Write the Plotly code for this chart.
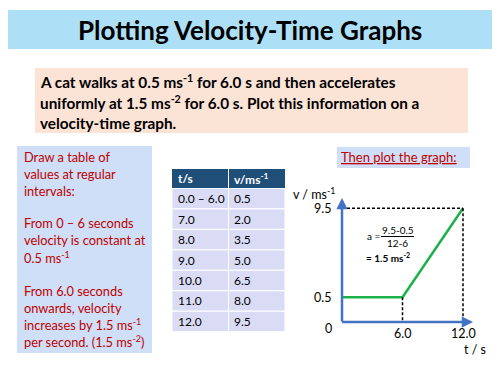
import plotly.graph_objects as go

# ---------------- data ----------------
table_t = ["0.0 – 6.0", "7.0", "8.0", "9.0", "10.0", "11.0", "12.0"]
table_v = ["0.5", "2.0", "3.5", "5.0", "6.5", "8.0", "9.5"]
table_header = ["t/s", "v/ms<sup>-1</sup>"]

graph_t = [0, 6, 12]
graph_v = [0.5, 0.5, 9.5]
x_tick_vals = [6, 12]
x_tick_text = ["6.0", "12.0"]
y_tick_vals = [0.5, 9.5]
y_tick_text = ["0.5", "9.5"]

# page is shown with the default 8px body margin: draw on a 492x367 canvas
OFF = 8
W, H = 500 - OFF, 375 - OFF
FONT = "Lato"
RED = "#C00000"
BLUE = "#4472C4"
GREEN = "#1DB14B"


def sketch_y(v):
    # the sketch is not to scale: the 0 -> 0.5 gap is stretched
    return v * 5 if v <= 0.5 else 2.5 + (v - 0.5)


def px(x):
    return (x - OFF) / W


def py(y):
    return 1 - (y - OFF) / H


fig = go.Figure()

# velocity-time line
fig.add_trace(go.Scatter(
    x=graph_t, y=[sketch_y(v) for v in graph_v], mode="lines",
    line=dict(color=GREEN, width=2.5), hoverinfo="skip", showlegend=False))

shapes = [
    dict(type="rect", xref="paper", yref="paper", x0=px(0), x1=px(500),
         y0=py(49), y1=py(10), fillcolor="#ADDFF7", line=dict(width=0), layer="below"),
    dict(type="rect", xref="paper", yref="paper", x0=px(35), x1=px(468),
         y0=py(133), y1=py(68), fillcolor="#FBE3D6", line=dict(width=0), layer="below"),
    dict(type="rect", xref="paper", yref="paper", x0=px(17), x1=px(152),
         y0=py(353), y1=py(146), fillcolor="#CFDFF7", line=dict(width=0), layer="below"),
    dict(type="rect", xref="paper", yref="paper", x0=px(337), x1=px(470),
         y0=py(168), y1=py(147), fillcolor="#CFDFF7", line=dict(width=0), layer="below"),
    # dashed guide lines
    dict(type="line", xref="x", yref="y", x0=0, x1=graph_t[2],
         y0=sketch_y(graph_v[2]), y1=sketch_y(graph_v[2]),
         line=dict(color="black", width=1.5, dash="3px,2px")),
    dict(type="line", xref="x", yref="y", x0=graph_t[2], x1=graph_t[2],
         y0=sketch_y(graph_v[2]), y1=0,
         line=dict(color="black", width=1.5, dash="3px,2px")),
    dict(type="line", xref="x", yref="y", x0=graph_t[1], x1=graph_t[1],
         y0=sketch_y(graph_v[1]), y1=0,
         line=dict(color="black", width=1.5, dash="3px,2px")),
    # fraction bar
    dict(type="line", xref="paper", yref="paper", x0=px(381), x1=px(414),
         y0=py(236.5), y1=py(236.5), line=dict(color="black", width=1)),
]

ann = []


def text(x, y, s, size=14, color="black", anchor="left", bold=False):
    if bold:
        s = "<b>" + s + "</b>"
    ann.append(dict(x=px(x), y=py(y), xref="paper", yref="paper", text=s,
                    showarrow=False, xanchor=anchor, yanchor="middle",
                    font=dict(family=FONT, size=size, color=color)))


# ---------------- table (cells as shapes, values as text) ----------------
tab_x = [172, 228.5, 285]
tab_top, head_h, row_h = 169, 19.5, 20.45
shapes.append(dict(type="rect", xref="paper", yref="paper", x0=px(tab_x[0]), x1=px(tab_x[2]),
                   y0=py(tab_top + head_h), y1=py(tab_top), fillcolor="#1F4E79",
                   line=dict(width=0), layer="below"))
for c, hdr in enumerate(table_header):
    text(tab_x[c] + 3.5, tab_top + head_h / 2, hdr, size=12, color="white", bold=True)
for r, (tv, vv) in enumerate(zip(table_t, table_v)):
    y0 = tab_top + head_h + r * row_h
    for c in range(2):
        shapes.append(dict(type="rect", xref="paper", yref="paper",
                           x0=px(tab_x[c]), x1=px(tab_x[c + 1]),
                           y0=py(y0 + row_h), y1=py(y0), fillcolor="#DADCF6",
                           line=dict(color="white", width=1), layer="below"))
    text(tab_x[0] + 3.5, y0 + row_h / 2, tv, size=12)
    text(tab_x[1] + 3.5, y0 + row_h / 2, vv, size=12)
shapes.append(dict(type="line", xref="paper", yref="paper", x0=px(tab_x[1]), x1=px(tab_x[1]),
                   y0=py(tab_top + head_h), y1=py(tab_top), line=dict(color="white", width=1)))

text(250, 30, "Plotting Velocity-Time Graphs", size=26, anchor="center", bold=True)

text(38, 81, "A cat walks at 0.5 ms<sup>-1</sup> for 6.0 s and then accelerates", size=15.3, bold=True)
text(38, 102, "uniformly at 1.5 ms<sup>-2</sup> for 6.0 s. Plot this information on a", size=15.3, bold=True)
text(38, 123, "velocity-time graph.", size=15.3, bold=True)

left_lines = [
    (157, "Draw a table of"), (174, "values at regular"), (191, "intervals:"),
    (223, "From 0 – 6 seconds"), (240, "velocity is constant at"), (257, "0.5 ms<sup>-1</sup>"),
    (291, "From 6.0 seconds"), (308, "onwards, velocity"),
    (324, "increases by 1.5 ms<sup>-1</sup>"), (341, "per second. (1.5 ms<sup>-2</sup>)"),
]
for yy, s in left_lines:
    text(22, yy, s, size=12.8, color=RED)

text(399, 157, "<u>Then plot the graph:</u>", size=13, color=RED, anchor="center")

# graph labels
text(314, 193, "v / ms<sup>-1</sup>", size=12.5, anchor="center")
text(475, 349, "t / s", size=12.5, anchor="center")
text(334, 328, "0", size=12.5, anchor="right")
text(373.5, 236, "a =", size=10, anchor="center")
text(397.5, 229.5, "9.5-0.5", size=10, anchor="center")
text(397.5, 243, "12-6", size=10, anchor="center")
text(388, 258, "<b>= 1.5 ms<sup>-2</sup></b>", size=10, anchor="center")

for v, s in zip(y_tick_vals, y_tick_text):
    ann.append(dict(x=0, y=sketch_y(v), xref="x", yref="y", text=s, showarrow=False,
                    xanchor="right", yanchor="middle", xshift=-9,
                    font=dict(family=FONT, size=12.5, color="black")))
for t, s in zip(x_tick_vals, x_tick_text):
    ann.append(dict(x=t, y=0, xref="x", yref="y", text=s, showarrow=False,
                    xanchor="center", yanchor="middle", yshift=-11,
                    font=dict(family=FONT, size=12.5, color="black")))

# axes with arrows (arrow heads overshoot the given point by a few px)
x_end = (473 - 342) / 10.083
y_end = (322 - 198) / 9.89
ann.append(dict(x=x_end, y=0, ax=-0.15, ay=0, xref="x", yref="y", axref="x", ayref="y",
                text="", showarrow=True, arrowhead=2, arrowsize=0.9, arrowwidth=2.5,
                arrowcolor=BLUE))
ann.append(dict(x=0, y=y_end, ax=0, ay=-0.1, xref="x", yref="y", axref="x", ayref="y",
                text="", showarrow=True, arrowhead=2, arrowsize=0.9, arrowwidth=2.5,
                arrowcolor=BLUE))

fig.update_layout(
    width=W, height=H, margin=dict(l=0, r=0, t=0, b=0),
    paper_bgcolor="white", plot_bgcolor="rgba(0,0,0,0)",
    shapes=shapes, annotations=ann, showlegend=False,
    xaxis=dict(domain=[px(342), px(490)], range=[0, 148 / 10.083], visible=False,
               fixedrange=True),
    yaxis=dict(domain=[py(322), py(182)], range=[0, 140 / 9.89], visible=False,
               fixedrange=True),
)

fig.write_html("out.html")
